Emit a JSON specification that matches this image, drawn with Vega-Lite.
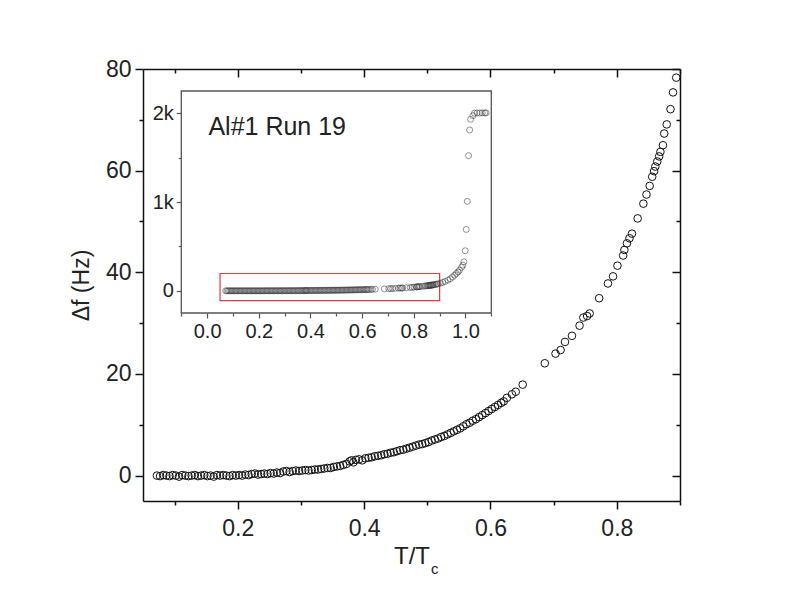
{
  "$schema": "https://vega.github.io/schema/vega-lite/v6.json",
  "background": "white",
  "padding": {"left": 70, "top": 58, "right": 5, "bottom": 5},
  "config": {
    "font": "Liberation Sans",
    "view": {"stroke": null},
    "axis": {"grid": false, "labelFont": "Liberation Sans", "titleFont": "Liberation Sans", "titleFontWeight": "normal"}
  },
  "datasets": {
    "meas": [
      {"T": 0.072, "df": 0.0}, {"T": 0.077, "df": -0.1}, {"T": 0.082, "df": 0.1}, {"T": 0.087, "df": 0.0},
      {"T": 0.092, "df": -0.1}, {"T": 0.097, "df": 0.1}, {"T": 0.102, "df": 0.0}, {"T": 0.107, "df": -0.2},
      {"T": 0.112, "df": 0.1}, {"T": 0.117, "df": 0.0}, {"T": 0.122, "df": -0.1}, {"T": 0.127, "df": 0.0},
      {"T": 0.132, "df": 0.1}, {"T": 0.137, "df": -0.1}, {"T": 0.142, "df": 0.0}, {"T": 0.147, "df": 0.1},
      {"T": 0.152, "df": -0.1}, {"T": 0.157, "df": 0.0}, {"T": 0.162, "df": -0.2}, {"T": 0.167, "df": 0.1},
      {"T": 0.172, "df": 0.0}, {"T": 0.177, "df": 0.1}, {"T": 0.182, "df": 0.0}, {"T": 0.187, "df": -0.1},
      {"T": 0.192, "df": 0.1}, {"T": 0.197, "df": 0.0}, {"T": 0.202, "df": 0.1}, {"T": 0.207, "df": 0.0},
      {"T": 0.212, "df": 0.2}, {"T": 0.217, "df": 0.1}, {"T": 0.222, "df": 0.3}, {"T": 0.227, "df": 0.4},
      {"T": 0.232, "df": 0.2}, {"T": 0.237, "df": 0.3}, {"T": 0.242, "df": 0.4}, {"T": 0.247, "df": 0.3},
      {"T": 0.252, "df": 0.5}, {"T": 0.257, "df": 0.4}, {"T": 0.262, "df": 0.6}, {"T": 0.267, "df": 0.5},
      {"T": 0.272, "df": 0.8}, {"T": 0.277, "df": 0.9}, {"T": 0.282, "df": 0.7}, {"T": 0.287, "df": 0.9},
      {"T": 0.292, "df": 1.0}, {"T": 0.297, "df": 0.9}, {"T": 0.302, "df": 1.0}, {"T": 0.307, "df": 1.1},
      {"T": 0.312, "df": 1.0}, {"T": 0.317, "df": 1.1}, {"T": 0.322, "df": 1.2}, {"T": 0.327, "df": 1.2},
      {"T": 0.332, "df": 1.3}, {"T": 0.337, "df": 1.4}, {"T": 0.342, "df": 1.5}, {"T": 0.347, "df": 1.5},
      {"T": 0.352, "df": 1.7}, {"T": 0.357, "df": 1.8}, {"T": 0.362, "df": 1.9}, {"T": 0.367, "df": 2.1},
      {"T": 0.372, "df": 2.3}, {"T": 0.377, "df": 2.8}, {"T": 0.380, "df": 3.0}, {"T": 0.383, "df": 2.6},
      {"T": 0.387, "df": 3.1}, {"T": 0.392, "df": 3.2}, {"T": 0.397, "df": 3.0}, {"T": 0.402, "df": 3.4},
      {"T": 0.407, "df": 3.5}, {"T": 0.412, "df": 3.6}, {"T": 0.417, "df": 3.8}, {"T": 0.422, "df": 3.9},
      {"T": 0.427, "df": 4.0}, {"T": 0.432, "df": 4.2}, {"T": 0.437, "df": 4.3}, {"T": 0.442, "df": 4.5},
      {"T": 0.447, "df": 4.6}, {"T": 0.452, "df": 4.8}, {"T": 0.457, "df": 5.0}, {"T": 0.462, "df": 5.1},
      {"T": 0.467, "df": 5.3}, {"T": 0.472, "df": 5.5}, {"T": 0.477, "df": 5.7}, {"T": 0.482, "df": 5.9},
      {"T": 0.487, "df": 6.1}, {"T": 0.492, "df": 6.2}, {"T": 0.497, "df": 6.4}, {"T": 0.502, "df": 6.6},
      {"T": 0.507, "df": 6.9}, {"T": 0.512, "df": 7.1}, {"T": 0.517, "df": 7.3}, {"T": 0.522, "df": 7.6},
      {"T": 0.527, "df": 7.8}, {"T": 0.532, "df": 8.1}, {"T": 0.537, "df": 8.4}, {"T": 0.542, "df": 8.7},
      {"T": 0.547, "df": 9.0}, {"T": 0.552, "df": 9.3}, {"T": 0.557, "df": 9.7}, {"T": 0.562, "df": 10.1},
      {"T": 0.567, "df": 10.4}, {"T": 0.572, "df": 10.8}, {"T": 0.577, "df": 11.1}, {"T": 0.582, "df": 11.5},
      {"T": 0.587, "df": 11.9}, {"T": 0.592, "df": 12.3}, {"T": 0.597, "df": 12.7}, {"T": 0.602, "df": 13.1},
      {"T": 0.607, "df": 13.5}, {"T": 0.612, "df": 13.9}, {"T": 0.617, "df": 14.3}, {"T": 0.621, "df": 14.6},
      {"T": 0.626, "df": 15.3}, {"T": 0.634, "df": 16.0}, {"T": 0.640, "df": 16.5}, {"T": 0.651, "df": 17.9},
      {"T": 0.686, "df": 22.1}, {"T": 0.703, "df": 24.0}, {"T": 0.711, "df": 24.7}, {"T": 0.718, "df": 26.3},
      {"T": 0.729, "df": 27.5}, {"T": 0.741, "df": 29.5}, {"T": 0.747, "df": 31.1}, {"T": 0.753, "df": 31.4},
      {"T": 0.757, "df": 31.9}, {"T": 0.772, "df": 34.9}, {"T": 0.786, "df": 37.8}, {"T": 0.794, "df": 39.2},
      {"T": 0.801, "df": 41.3}, {"T": 0.810, "df": 43.3}, {"T": 0.812, "df": 44.4}, {"T": 0.816, "df": 45.7},
      {"T": 0.820, "df": 46.7}, {"T": 0.824, "df": 47.6}, {"T": 0.833, "df": 50.6}, {"T": 0.842, "df": 53.5},
      {"T": 0.847, "df": 55.3}, {"T": 0.852, "df": 57.0}, {"T": 0.856, "df": 58.8}, {"T": 0.859, "df": 59.9},
      {"T": 0.861, "df": 60.8}, {"T": 0.864, "df": 61.8}, {"T": 0.867, "df": 62.8}, {"T": 0.869, "df": 63.7},
      {"T": 0.873, "df": 65.0}, {"T": 0.875, "df": 67.3}, {"T": 0.879, "df": 69.1}, {"T": 0.885, "df": 72.1},
      {"T": 0.889, "df": 75.4}, {"T": 0.894, "df": 78.3},
      {"T": 0.903, "df": 85}, {"T": 0.912, "df": 95}, {"T": 0.921, "df": 105}, {"T": 0.932, "df": 120},
      {"T": 0.941, "df": 135}, {"T": 0.950, "df": 155}, {"T": 0.958, "df": 176}, {"T": 0.965, "df": 195},
      {"T": 0.971, "df": 212}, {"T": 0.977, "df": 232}, {"T": 0.985, "df": 265}, {"T": 0.990, "df": 289},
      {"T": 0.994, "df": 327}, {"T": 0.999, "df": 451}, {"T": 1.003, "df": 691}, {"T": 1.007, "df": 1007},
      {"T": 1.012, "df": 1522}, {"T": 1.016, "df": 1811}, {"T": 1.020, "df": 1931}, {"T": 1.029, "df": 1973},
      {"T": 1.035, "df": 2000}, {"T": 1.045, "df": 2003}, {"T": 1.055, "df": 2002}, {"T": 1.065, "df": 2004},
      {"T": 1.075, "df": 2003}, {"T": 1.080, "df": 2004}
    ],
    "one": [{}]
  },
  "width": 537,
  "height": 432,
  "data": {"name": "meas"},
  "resolve": {"scale": {"x": "independent", "y": "independent"}, "axis": {"x": "independent", "y": "independent"}},
  "layer": [
    {
      "transform": [{"filter": "datum.T <= 0.9"}],
      "mark": {"type": "point", "shape": "circle", "filled": false, "size": 58, "stroke": "#111", "strokeWidth": 1, "opacity": 1},
      "encoding": {
        "x": {
          "field": "T", "type": "quantitative",
          "scale": {"domain": [0.05, 0.9], "nice": false, "zero": false},
          "axis": {
            "orient": "bottom",
            "values": [0.1, 0.2, 0.3, 0.4, 0.5, 0.6, 0.7, 0.8, 0.9],
            "format": ".1f",
            "labelExpr": "round(datum.value*10) % 2 == 0 ? datum.label : ''",
            "tickSize": {"condition": {"test": "round(datum.value*10) % 2 == 0", "value": 8}, "value": 4},
            "tickColor": "#111", "tickWidth": 1.5,
            "domainColor": "#111", "domainWidth": 1.5,
            "labelFontSize": 23, "labelColor": "#222", "labelPadding": 8,
            "title": "T/T", "titleFontSize": 24, "titleColor": "#222", "titlePadding": 4
          }
        },
        "y": {
          "field": "df", "type": "quantitative",
          "scale": {"domain": [-5, 80], "nice": false, "zero": false},
          "axis": {
            "orient": "left",
            "values": [0, 10, 20, 30, 40, 50, 60, 70, 80],
            "labelExpr": "datum.value % 20 == 0 ? datum.label : ''",
            "tickSize": {"condition": {"test": "datum.value % 20 == 0", "value": 8}, "value": 4},
            "tickColor": "#111", "tickWidth": 1.5,
            "domainColor": "#111", "domainWidth": 1.5,
            "labelFontSize": 23, "labelColor": "#222", "labelPadding": 4,
            "title": "Δf (Hz)", "titleFontSize": 23, "titleColor": "#222", "titlePadding": 12
          }
        }
      }
    },
    {
      "data": {"values": []},
      "mark": {"type": "point"},
      "encoding": {
        "x": {
          "field": "T", "type": "quantitative",
          "scale": {"domain": [0.05, 0.9], "nice": false, "zero": false},
          "axis": {
            "orient": "top", "labels": false, "title": null,
            "values": [0.1, 0.2, 0.3, 0.4, 0.5, 0.6, 0.7, 0.8, 0.9],
            "tickSize": {"condition": {"test": "round(datum.value*10) % 2 == 0", "value": -8}, "value": -4},
            "tickColor": "#111", "tickWidth": 1.5,
            "domainColor": "#111", "domainWidth": 1.5
          }
        },
        "y": {
          "field": "df", "type": "quantitative",
          "scale": {"domain": [-5, 80], "nice": false, "zero": false},
          "axis": {
            "orient": "right", "labels": false, "title": null,
            "values": [0, 10, 20, 30, 40, 50, 60, 70, 80],
            "tickSize": {"condition": {"test": "datum.value % 20 == 0", "value": -8}, "value": -4},
            "tickColor": "#111", "tickWidth": 1.5,
            "domainColor": "#111", "domainWidth": 1.5
          }
        }
      }
    },
    {
      "data": {"name": "one"},
      "mark": {"type": "text", "text": "c", "fontSize": 15, "color": "#222", "align": "left", "baseline": "middle", "clip": false},
      "encoding": {
        "x": {"datum": 0.506, "type": "quantitative", "scale": {"domain": [0.05, 0.9], "nice": false, "zero": false}, "axis": null},
        "y": {"datum": -18.3, "type": "quantitative", "scale": {"domain": [-5, 80], "nice": false, "zero": false}, "axis": null}
      }
    },
    {
      "data": {"name": "one"},
      "mark": {"type": "rect", "fill": "white", "stroke": "#555", "strokeWidth": 1.3},
      "encoding": {
        "x": {"datum": -0.1, "type": "quantitative", "scale": {"domain": [-0.24826, 1.83046], "nice": false, "zero": false}, "axis": null},
        "x2": {"datum": 1.1},
        "y": {"datum": -250, "type": "quantitative", "scale": {"domain": [-2367.12, 2497.75], "nice": false, "zero": false}, "axis": null},
        "y2": {"datum": 2250}
      }
    },
    {
      "data": {"name": "one"},
      "mark": {"type": "rect", "filled": false, "stroke": "#e0393e", "strokeWidth": 1.2},
      "encoding": {
        "x": {"datum": 0.05, "type": "quantitative", "scale": {"domain": [-0.24826, 1.83046], "nice": false, "zero": false}, "axis": null},
        "x2": {"datum": 0.9},
        "y": {"datum": -110, "type": "quantitative", "scale": {"domain": [-2367.12, 2497.75], "nice": false, "zero": false}, "axis": null},
        "y2": {"datum": 195}
      }
    },
    {
      "mark": {"type": "point", "shape": "circle", "filled": false, "size": 36, "stroke": "#333", "strokeWidth": 1, "strokeOpacity": 0.75},
      "encoding": {
        "x": {
          "field": "T", "type": "quantitative",
          "scale": {"domain": [-0.24826, 1.83046], "nice": false, "zero": false},
          "axis": {
            "orient": "bottom", "offset": -188, "domain": false,
            "values": [-0.1, 0, 0.1, 0.2, 0.3, 0.4, 0.5, 0.6, 0.7, 0.8, 0.9, 1.0, 1.1],
            "format": ".1f",
            "labelExpr": "abs(round(datum.value*10)) % 2 == 0 ? datum.label : ''",
            "tickSize": {"condition": {"test": "abs(round(datum.value*10)) % 2 == 0", "value": 5}, "value": 3},
            "tickColor": "#555", "tickWidth": 1.2,
            "labelFontSize": 20, "labelColor": "#222", "labelPadding": 3,
            "title": null
          }
        },
        "y": {
          "field": "df", "type": "quantitative",
          "scale": {"domain": [-2367.12, 2497.75], "nice": false, "zero": false},
          "axis": {
            "orient": "left", "offset": -38.3, "domain": false,
            "values": [0, 500, 1000, 1500, 2000],
            "labelExpr": "datum.value == 0 ? '0' : (datum.value % 1000 == 0 ? (datum.value/1000) + 'k' : '')",
            "tickSize": {"condition": {"test": "datum.value % 1000 == 0", "value": 5}, "value": 3},
            "tickColor": "#555", "tickWidth": 1.2,
            "labelFontSize": 20, "labelColor": "#222", "labelPadding": 3,
            "title": null
          }
        }
      }
    },
    {
      "data": {"name": "one"},
      "mark": {"type": "text", "text": "Al#1 Run 19", "fontSize": 25, "color": "#222", "align": "left", "baseline": "middle"},
      "encoding": {
        "x": {"datum": 0.005, "type": "quantitative", "scale": {"domain": [-0.24826, 1.83046], "nice": false, "zero": false}, "axis": null},
        "y": {"datum": 1840, "type": "quantitative", "scale": {"domain": [-2367.12, 2497.75], "nice": false, "zero": false}, "axis": null}
      }
    },
    {
      "data": {"values": []},
      "mark": {"type": "point"},
      "encoding": {
        "x": {
          "field": "T", "type": "quantitative",
          "scale": {"domain": [-0.24826, 1.83046], "nice": false, "zero": false},
          "axis": {
            "orient": "top", "offset": -22, "domain": false, "labels": false, "title": null,
            "values": [-0.1, 0, 0.1, 0.2, 0.3, 0.4, 0.5, 0.6, 0.7, 0.8, 0.9, 1.0, 1.1],
            "tickSize": {"condition": {"test": "abs(round(datum.value*10)) % 2 == 0", "value": -5}, "value": -3},
            "tickColor": "#555", "tickWidth": 1.2
          }
        },
        "y": {
          "field": "df", "type": "quantitative",
          "scale": {"domain": [-2367.12, 2497.75], "nice": false, "zero": false},
          "axis": {
            "orient": "right", "offset": -188.7, "domain": false, "labels": false, "title": null,
            "values": [0, 500, 1000, 1500, 2000],
            "tickSize": {"condition": {"test": "datum.value % 1000 == 0", "value": -5}, "value": -3},
            "tickColor": "#555", "tickWidth": 1.2
          }
        }
      }
    }
  ]
}
